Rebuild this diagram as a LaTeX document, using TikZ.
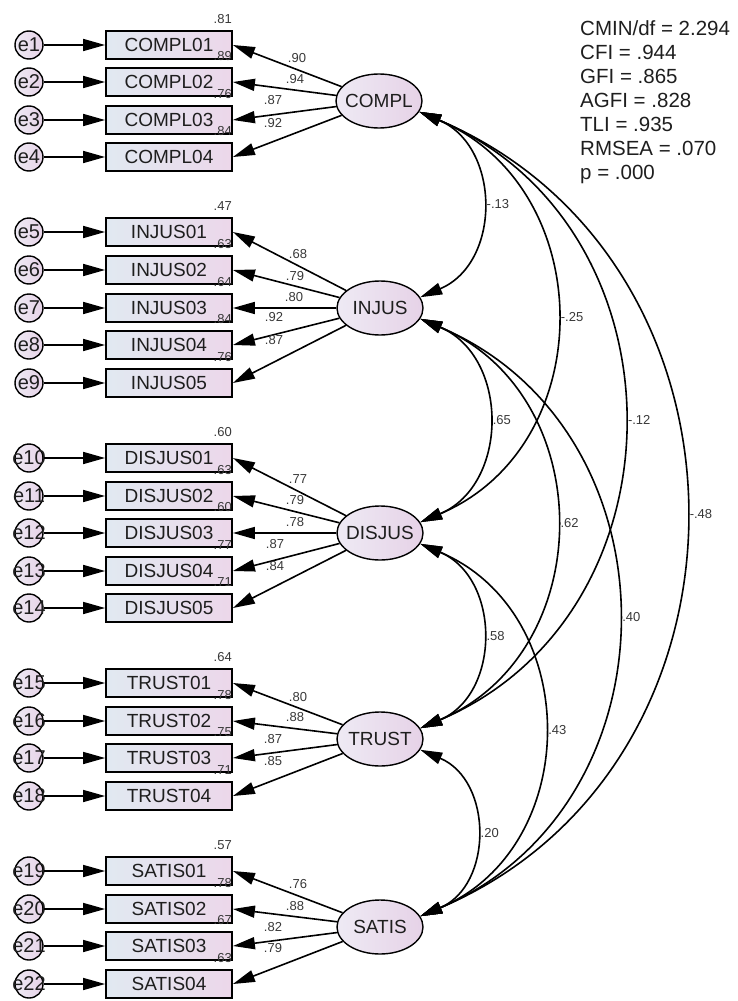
\documentclass[tikz,border=0pt]{standalone}
\usepackage{fontspec}
\setmainfont{Liberation Sans}
\usetikzlibrary{arrows.meta,shapes.geometric}
\definecolor{boxL}{HTML}{E1E9F1}
\definecolor{boxR}{HTML}{ECD7EA}
\definecolor{ellL}{HTML}{EEEAF4}
\definecolor{ellR}{HTML}{E6D2E7}
\definecolor{txt}{HTML}{1E1E1E}
\definecolor{lbl}{HTML}{383838}
\begin{document}
\begin{tikzpicture}[x=1pt,y=1pt,
  obs/.style={draw, line width=1.8pt, rectangle, minimum width=126pt, minimum height=28pt, inner sep=0pt, left color=boxL, right color=boxR, font=\fontsize{19}{22}\selectfont, text=txt},
  lat/.style={draw, line width=1.4pt, ellipse, minimum width=86pt, minimum height=54pt, inner sep=0pt, left color=ellL, right color=ellR, font=\fontsize{19}{22}\selectfont, text=txt},
  err/.style={draw, circle, line width=1.4pt, minimum size=28pt, inner sep=0pt, left color=ellL, right color=ellR, font=\fontsize{20}{22}\selectfont, text=txt},
  arr/.style={line width=1.6pt, -{Triangle[length=22pt,width=12pt]}},
  cov/.style={line width=1.6pt, {Triangle[length=22pt,width=12pt]}-{Triangle[length=22pt,width=12pt]}, looseness=1.22},
  small/.style={font=\fontsize{13}{15}\selectfont, text=lbl, inner sep=0pt},
  covlab/.style={small, anchor=west, xshift=5pt},
  stat/.style={font=\fontsize{20.5}{24}\selectfont, anchor=base west, inner sep=0pt, text=txt}
]
\useasboundingbox (0,0) rectangle (738,-1001);

% latent variables
\node[lat] (COMPL)  at (379,-101) {\makebox[0pt]{COMPL}};
\node[lat] (INJUS)  at (380,-308) {\makebox[0pt]{INJUS}};
\node[lat] (DISJUS) at (380,-533) {\makebox[0pt]{DISJUS}};
\node[lat] (TRUST)  at (380,-739) {\makebox[0pt]{TRUST}};
\node[lat] (SATIS)  at (380,-927) {\makebox[0pt]{SATIS}};

% indicators, errors, loadings, R2
\foreach \i/\nm/\y/\r/\l/\lx/\ly/\f in {
1/COMPL01/45/.81/.90/297/58/COMPL,
2/COMPL02/82/.89/.94/295/79/COMPL,
3/COMPL03/120/.76/.87/273/100/COMPL,
4/COMPL04/157/.84/.92/273/123/COMPL,
5/INJUS01/232/.47/.68/298/254/INJUS,
6/INJUS02/270/.63/.79/295/276/INJUS,
7/INJUS03/308/.64/.80/294/297/INJUS,
8/INJUS04/345/.84/.92/274/317/INJUS,
9/INJUS05/383/.76/.87/274/340/INJUS,
10/DISJUS01/458/.60/.77/298/479/DISJUS,
11/DISJUS02/496/.63/.79/295/500/DISJUS,
12/DISJUS03/533/.60/.78/295/522/DISJUS,
13/DISJUS04/571/.77/.87/275/544/DISJUS,
14/DISJUS05/608/.71/.84/275/566/DISJUS,
15/TRUST01/683/.64/.80/298/697/TRUST,
16/TRUST02/721/.78/.88/295/717/TRUST,
17/TRUST03/758/.75/.87/273/739/TRUST,
18/TRUST04/796/.71/.85/273/761/TRUST,
19/SATIS01/871/.57/.76/298/884/SATIS,
20/SATIS02/909/.78/.88/295/906/SATIS,
21/SATIS03/946/.67/.82/273/927/SATIS,
22/SATIS04/984/.63/.79/273/948/SATIS}{
  \node[obs] (b\i) at (169,-\y) {\nm};
  \node[err] (e\i) at (29,-\y) {\makebox[0pt]{e\i}};
  \draw[arr] (e\i) -- (b\i.west);
  \draw[arr] (\f) -- (b\i.east);
  \node[small,anchor=east] (r\i) at (232,-\y+26) {\r};
  \node[small] (l\i) at (\lx,-\ly) {\l};
}

% covariances
\draw[cov] (COMPL.-15)  to[out=-23,in=23] node[covlab] (c1) {-.13} (INJUS.15);
\draw[cov] (COMPL.-15)  to[out=-23,in=23] node[covlab] (c2) {-.25} (DISJUS.15);
\draw[cov] (COMPL.-15)  to[out=-23,in=23] node[covlab] (c3) {-.12} (TRUST.15);
\draw[cov] (COMPL.-15)  to[out=-23,in=23] node[covlab] (c4) {-.48} (SATIS.15);
\draw[cov] (INJUS.-15)  to[out=-23,in=23] node[covlab] (c5) {.65} (DISJUS.15);
\draw[cov] (INJUS.-15)  to[out=-23,in=23] node[covlab] (c6) {.62} (TRUST.15);
\draw[cov] (INJUS.-15)  to[out=-23,in=23] node[covlab] (c7) {.40} (SATIS.15);
\draw[cov] (DISJUS.-15) to[out=-23,in=23] node[covlab] (c8) {.58} (TRUST.15);
\draw[cov] (DISJUS.-15) to[out=-23,in=23] node[covlab] (c9) {.43} (SATIS.15);
\draw[cov] (TRUST.-15)  to[out=-23,in=23] node[covlab] (c10) {.20} (SATIS.15);

% fit statistics
\node[stat] (s1) at (580,-35)  {CMIN/df = 2.294};
\node[stat] (s2) at (580,-59)  {CFI = .944};
\node[stat] (s3) at (580,-83)  {GFI = .865};
\node[stat] (s4) at (580,-107) {AGFI = .828};
\node[stat] (s5) at (580,-131) {TLI = .935};
\node[stat] (s6) at (580,-155) {RMSEA = .070};
\node[stat] (s7) at (580,-179) {p = .000};
\end{tikzpicture}
\end{document}
